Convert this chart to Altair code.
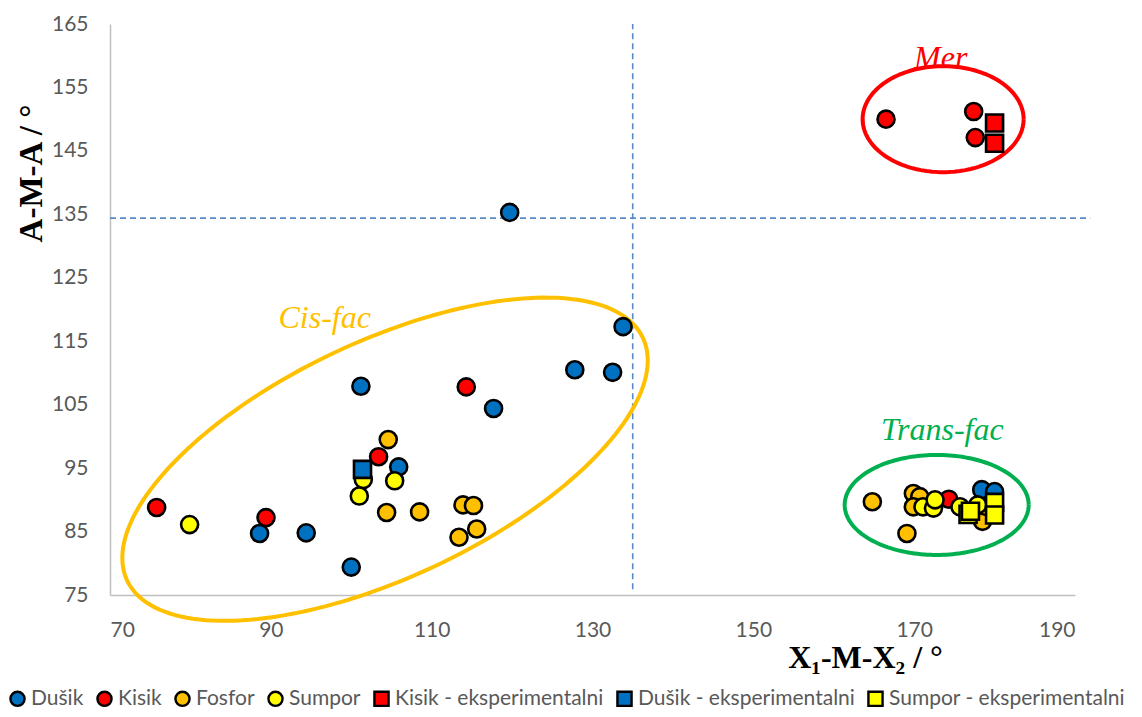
import altair as alt
import numpy as np
import pandas as pd

# ---------------- data ----------------
SERIES = ["Dušik", "Kisik", "Fosfor", "Sumpor",
          "Kisik - eksperimentalni", "Dušik - eksperimentalni", "Sumpor - eksperimentalni"]
COLORS = ["#0070C0", "#FF0000", "#FFC000", "#FFFF00", "#FF0000", "#0070C0", "#FFFF00"]
SHAPES = ["circle", "circle", "circle", "circle", "square", "square", "square"]
OUTLINE = ["black"] * 7

fosfor_x = [104.6, 104.4, 108.5, 113.9, 115.2, 113.4, 115.6, 164.8, 169.1, 169.9, 170.7, 169.9, 178.5, 178.8]
fosfor_y = [99.5, 88.0, 88.1, 89.2, 89.1, 84.1, 85.4, 89.7, 84.7, 91.0, 90.5, 88.9, 86.6, 89.0]

dusik_x = [119.7, 133.8, 127.8, 132.5, 117.7, 101.2, 105.9, 88.6, 94.4, 100.0, 178.4, 180.0]
dusik_y = [135.3, 117.3, 110.5, 110.1, 104.4, 107.9, 95.2, 84.7, 84.8, 79.4, 91.6, 91.3]

kisik_x = [75.8, 89.4, 103.4, 114.3, 166.5, 177.4, 177.6, 174.3]
kisik_y = [88.8, 87.2, 96.8, 107.8, 150.0, 151.2, 147.1, 90.1]

sumpor_x = [79.9, 101.5, 101.0, 105.4, 171.1, 172.4, 172.6, 175.7, 177.9]
sumpor_y = [86.1, 93.2, 90.6, 93.0, 88.9, 88.7, 90.0, 88.9, 89.2]

kisik_exp_x = [180.0, 180.0]
kisik_exp_y = [149.4, 146.2]

dusik_exp_x = [101.4]
dusik_exp_y = [94.8]

sumpor_exp_x = [176.7, 177.0, 180.0, 180.0]
sumpor_exp_y = [87.7, 88.2, 89.6, 87.6]

X_TICKS = [70, 90, 110, 130, 150, 170, 190]
Y_TICKS = [75, 85, 95, 105, 115, 125, 135, 145, 155, 165]

REF_X = 135.0
REF_Y = 134.4

# region annotations: label, x, y, color
labels = ["Mer", "Cis-fac", "Trans-fac"]
label_x = [173.3, 96.7, 173.5]
label_y = [159.6, 118.7, 101.0]
label_color = ["#FF0000", "#FFC000", "#00B050"]

# ellipses: center (data), semi-axes (px), rotation (deg on screen)
ell_names = ["cis", "mer", "trans"]
ell_cx = [104.2, 173.6, 172.8]
ell_cy = [96.4, 150.0, 89.2]
ell_a = [285.0, 80.5, 92.0]
ell_b = [118.0, 53.0, 50.0]
ell_rot = [25.2, 0.0, 0.0]
ell_color = ["#FFC000", "#FF0000", "#00B050"]

# ---------------- layout ----------------
W, H = 965, 571
XDOM = [70, 190]
YDOM = [75, 165]
PX_X = W / (XDOM[1] - XDOM[0])
PX_Y = H / (YDOM[1] - YDOM[0])

# ---------------- tables ----------------
rows = []
for name, xs, ys in [("Fosfor", fosfor_x, fosfor_y), ("Dušik", dusik_x, dusik_y),
                     ("Kisik", kisik_x, kisik_y), ("Sumpor", sumpor_x, sumpor_y),
                     ("Kisik - eksperimentalni", kisik_exp_x, kisik_exp_y),
                     ("Dušik - eksperimentalni", dusik_exp_x, dusik_exp_y),
                     ("Sumpor - eksperimentalni", sumpor_exp_x, sumpor_exp_y)]:
    for xv, yv in zip(xs, ys):
        rows.append({"x": xv, "y": yv, "series": name})
pts = pd.DataFrame(rows)
pts["i"] = range(len(pts))

xscale = alt.Scale(domain=XDOM, nice=False, zero=False)
yscale = alt.Scale(domain=YDOM, nice=False, zero=False)

label_font = "Lato"
tick_color = "#595959"

xaxis = alt.Axis(values=X_TICKS, grid=False, ticks=False, domainColor="#BFBFBF", domainWidth=1.5,
                 labelFont=label_font, labelFontSize=21, labelColor=tick_color, labelPadding=24,
                 title="X₁-M-X₂ / °", titleFont="Liberation Serif", titleFontSize=32,
                 titleFontWeight="bold", titleColor="black", titleX=755, titleY=72,
                 titleAlign="center", titleBaseline="alphabetic")
yaxis = alt.Axis(values=Y_TICKS, grid=False, ticks=False, domainColor="#BFBFBF", domainWidth=1.5,
                 labelFont=label_font, labelFontSize=21, labelColor=tick_color, labelPadding=22,
                 title="A-M-A / °", titleFont="Liberation Serif", titleFontSize=33,
                 titleFontWeight="bold", titleColor="black", titleX=-79, titleY=149,
                 titleAngle=270, titleAlign="center", titleBaseline="middle")

legend = alt.Legend(title=None, orient="none", direction="horizontal", legendX=-103, legendY=664,
                    labelFont=label_font, labelFontSize=21, labelColor=tick_color, labelOffset=3,
                    labelLimit=0, symbolSize=200, symbolStrokeColor="black", symbolStrokeWidth=2.4,
                    columnPadding=8, symbolOpacity=1)

points = alt.Chart(pts).mark_point(filled=True, size=290, strokeWidth=2.6,
                                   opacity=1, fillOpacity=1, strokeOpacity=1).encode(
    x=alt.X("x:Q", scale=xscale, axis=xaxis),
    y=alt.Y("y:Q", scale=yscale, axis=yaxis),
    fill=alt.Fill("series:N", scale=alt.Scale(domain=SERIES, range=COLORS), legend=legend),
    shape=alt.Shape("series:N", scale=alt.Scale(domain=SERIES, range=SHAPES), legend=legend),
    stroke=alt.Stroke("series:N", scale=alt.Scale(domain=SERIES, range=OUTLINE), legend=legend),
    order=alt.Order("i:Q"),
)

ref_df = pd.DataFrame({"x": [REF_X], "y": [REF_Y], "x0": [XDOM[0]], "y1": [YDOM[1]],
                       "y0": [YDOM[0] + 0.9], "x1": [191.9]})
vline = alt.Chart(ref_df).mark_rule(color="#5A8AC6", strokeDash=[6, 4], strokeWidth=1.6).encode(
    x=alt.X("x:Q", scale=xscale), y=alt.Y("y0:Q", scale=yscale), y2="y1:Q")
hline = alt.Chart(ref_df).mark_rule(color="#5A8AC6", strokeDash=[6, 4], strokeWidth=1.6, clip=False).encode(
    y=alt.Y("y:Q", scale=yscale), x=alt.X("x0:Q", scale=xscale), x2="x1:Q")

ell_rows = []
t = np.linspace(0, 2 * np.pi, 181)
for n, cx, cy, a, b, r in zip(ell_names, ell_cx, ell_cy, ell_a, ell_b, ell_rot):
    th = np.radians(r)
    dx = a * np.cos(th) * np.cos(t) - b * np.sin(th) * np.sin(t)
    dy = a * np.sin(th) * np.cos(t) + b * np.cos(th) * np.sin(t)
    for k in range(len(t)):
        ell_rows.append({"name": n, "k": k, "x": cx + dx[k] / PX_X, "y": cy + dy[k] / PX_Y})
ell_df = pd.DataFrame(ell_rows)
ellipses = alt.Chart(ell_df).mark_line(strokeWidth=4, clip=False).encode(
    x=alt.X("x:Q", scale=xscale),
    y=alt.Y("y:Q", scale=yscale),
    order=alt.Order("k:Q"),
    detail="name:N",
    stroke=alt.Stroke("name:N", scale=alt.Scale(domain=ell_names, range=ell_color), legend=None),
)

lab_df = pd.DataFrame({"label": labels, "x": label_x, "y": label_y, "c": label_color})
texts = alt.Chart(lab_df).mark_text(font="Liberation Serif", fontStyle="italic", fontSize=32,
                                    align="center", baseline="middle").encode(
    x=alt.X("x:Q", scale=xscale), y=alt.Y("y:Q", scale=yscale), text="label:N",
    color=alt.Color("c:N", scale=None, legend=None))

chart = alt.layer(vline, hline, ellipses, texts, points).resolve_scale(
    fill="independent", shape="independent", stroke="independent"
).properties(
    width=W, height=H,
    autosize=alt.AutoSizeParams(type="none"),
    padding={"left": 102, "top": 16, "right": 59, "bottom": 114},
    background="white",
).configure_view(stroke=None)

chart.save("out.html", embed_options={"renderer": "svg", "actions": False})
